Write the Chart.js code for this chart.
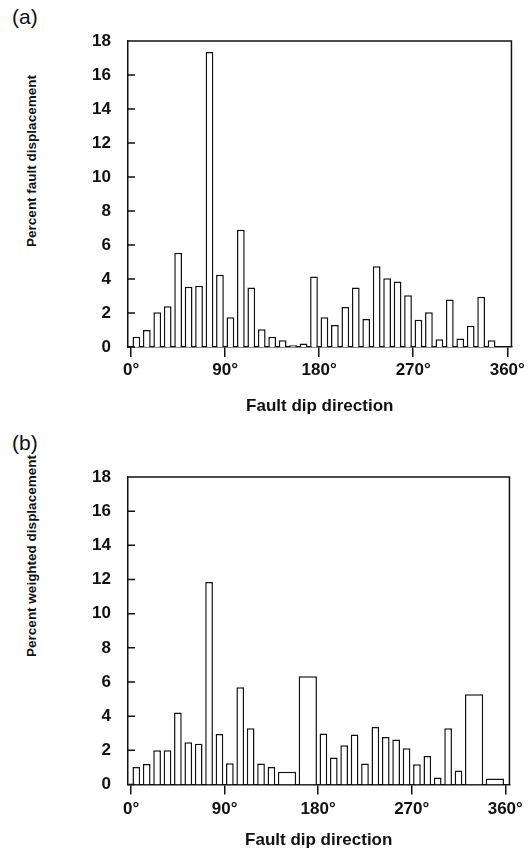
<!DOCTYPE html>
<html>
<head>
<meta charset="utf-8">
<script src="https://cdn.jsdelivr.net/npm/chart.js@4.4.0/dist/chart.umd.min.js"></script>
<style>
  body { margin: 0; background: #fff; width: 528px; height: 851px; position: relative; overflow: hidden;
         font-family: "Liberation Sans", Arial, sans-serif; color: #111; }
  .panel { position: absolute; left: 0; width: 528px; }
  .tag { position: absolute; left: 12px; font-size: 21px; line-height: 1; }
  .ytitle { position: absolute; left: 32px; transform: translate(-50%, -50%) rotate(-90deg);
            white-space: nowrap; font-size: 13.5px; font-weight: bold; line-height: 1; }
</style>
</head>
<body>
<div class="tag" style="top:6px">(a)</div>
<div class="ytitle" style="top:161px">Percent fault displacement</div>
<div class="panel" style="top:0;height:417px"><canvas id="chartA"></canvas></div>

<div class="tag" style="top:432px">(b)</div>
<div class="ytitle" style="top:556px">Percent weighted displacement</div>
<div class="panel" style="top:420px;height:431px"><canvas id="chartB"></canvas></div>

<script>
// bin centres in degrees (10° bins)
const binCentresA = [5, 15, 25, 35, 45, 55, 65, 75, 85, 95, 105, 115, 125, 135, 145, 155, 165, 175,
                     185, 195, 205, 215, 225, 235, 245, 255, 265, 275, 285, 295, 305, 315, 325, 335, 345, 355];
const displacementA = [0.6, 1.0, 2.05, 2.4, 5.55, 3.55, 3.6, 17.35, 4.25, 1.75, 6.9, 3.5, 1.05, 0.6, 0.4, 0.1, 0.2, 4.15,
                       1.75, 1.3, 2.35, 3.5, 1.65, 4.75, 4.05, 3.85, 3.05, 1.6, 2.05, 0.45, 2.8, 0.5, 1.25, 2.95, 0.4, 0];

// panel b: 10° bins plus a few merged 20° bins
const binCentresB = [5, 15, 25, 35, 45, 55, 65, 75, 85, 95, 105, 115, 125, 135,
                     185, 195, 205, 215, 225, 235, 245, 255, 265, 275, 285, 295, 305, 315];
const weightedB = [1.03, 1.2, 2.0, 2.0, 4.22, 2.47, 2.39, 11.85, 2.96, 1.25, 5.7, 3.3, 1.23, 1.03,
                   2.98, 1.58, 2.3, 2.92, 1.23, 3.37, 2.78, 2.63, 2.12, 1.19, 1.67, 0.41, 3.29, 0.82];
const wideCentresB = [150, 170, 330, 350];
const wideWeightedB = [0.74, 6.33, 5.29, 0.35];

const xTicks = [0, 90, 180, 270, 360];
const yTicks = [0, 2, 4, 6, 8, 10, 12, 14, 16, 18];

const INK = '#111';

const framePlugin = {
  id: 'frame',
  afterDraw(chart) {
    const { ctx, chartArea: a, scales: { y } } = chart;
    ctx.save();
    ctx.strokeStyle = INK;
    ctx.lineWidth = 1.5;
    ctx.beginPath();
    ctx.moveTo(a.left, a.top);
    ctx.lineTo(a.right, a.top);
    ctx.lineTo(a.right, a.bottom);
    y.ticks.forEach(t => {
      const py = y.getPixelForValue(t.value);
      ctx.moveTo(a.left, py);
      ctx.lineTo(a.left + 7, py);
    });
    ctx.stroke();
    ctx.restore();
  }
};

function points(xs, ys) {
  return xs.map((x, i) => ({ x: x, y: ys[i] }));
}

function barSet(data, axisId, pct) {
  return {
    data: data,
    xAxisID: axisId,
    backgroundColor: '#fff',
    borderColor: INK,
    borderWidth: 1.5,
    categoryPercentage: 1,
    barPercentage: pct,
    grouped: false
  };
}

function makeOptions(padTop, xHeight, labelPad) {
  return {
    responsive: true,
    maintainAspectRatio: false,
    animation: false,
    layout: { padding: { top: padTop, right: 13, bottom: 0, left: 0 } },
    plugins: { legend: { display: false }, tooltip: { enabled: false } },
    scales: {
      x: {
        type: 'linear', min: -3, max: 364, offset: false,
        afterBuildTicks: ax => { ax.ticks = xTicks.map(v => ({ value: v })); },
        afterFit: ax => { ax.height = xHeight; },
        ticks: { callback: v => v + '°', color: INK, padding: labelPad,
                 font: { family: 'Liberation Sans', size: 17, weight: 'bold' }, maxRotation: 0 },
        grid: { drawOnChartArea: false, offset: false, tickLength: 10, color: INK, lineWidth: 1.5 },
        border: { display: true, color: INK, width: 1.5 },
        title: { display: true, text: 'Fault dip direction', color: INK, padding: 0,
                 font: { family: 'Liberation Sans', size: 17, weight: 'bold' } }
      },
      x2: { type: 'linear', min: -3, max: 364, offset: false, display: false },
      y: {
        min: 0, max: 18,
        afterBuildTicks: ax => { ax.ticks = yTicks.map(v => ({ value: v })); },
        afterFit: ax => { ax.width = 128; },
        ticks: { color: INK, padding: 9, font: { family: 'Liberation Sans', size: 17, weight: 'bold' } },
        grid: { display: false },
        border: { display: true, color: INK, width: 1.5 }
      }
    }
  };
}

new Chart(document.getElementById('chartA'), {
  type: 'bar',
  data: { datasets: [barSet(points(binCentresA, displacementA), 'x', 0.74)] },
  options: makeOptions(41, 70, 3),
  plugins: [framePlugin]
});

new Chart(document.getElementById('chartB'), {
  type: 'bar',
  data: {
    datasets: [
      barSet(points(binCentresB, weightedB), 'x', 0.74),
      barSet(points(wideCentresB, wideWeightedB), 'x2', 0.88)
    ]
  },
  options: makeOptions(57, 66.5, 5),
  plugins: [framePlugin]
});
</script>
</body>
</html>
